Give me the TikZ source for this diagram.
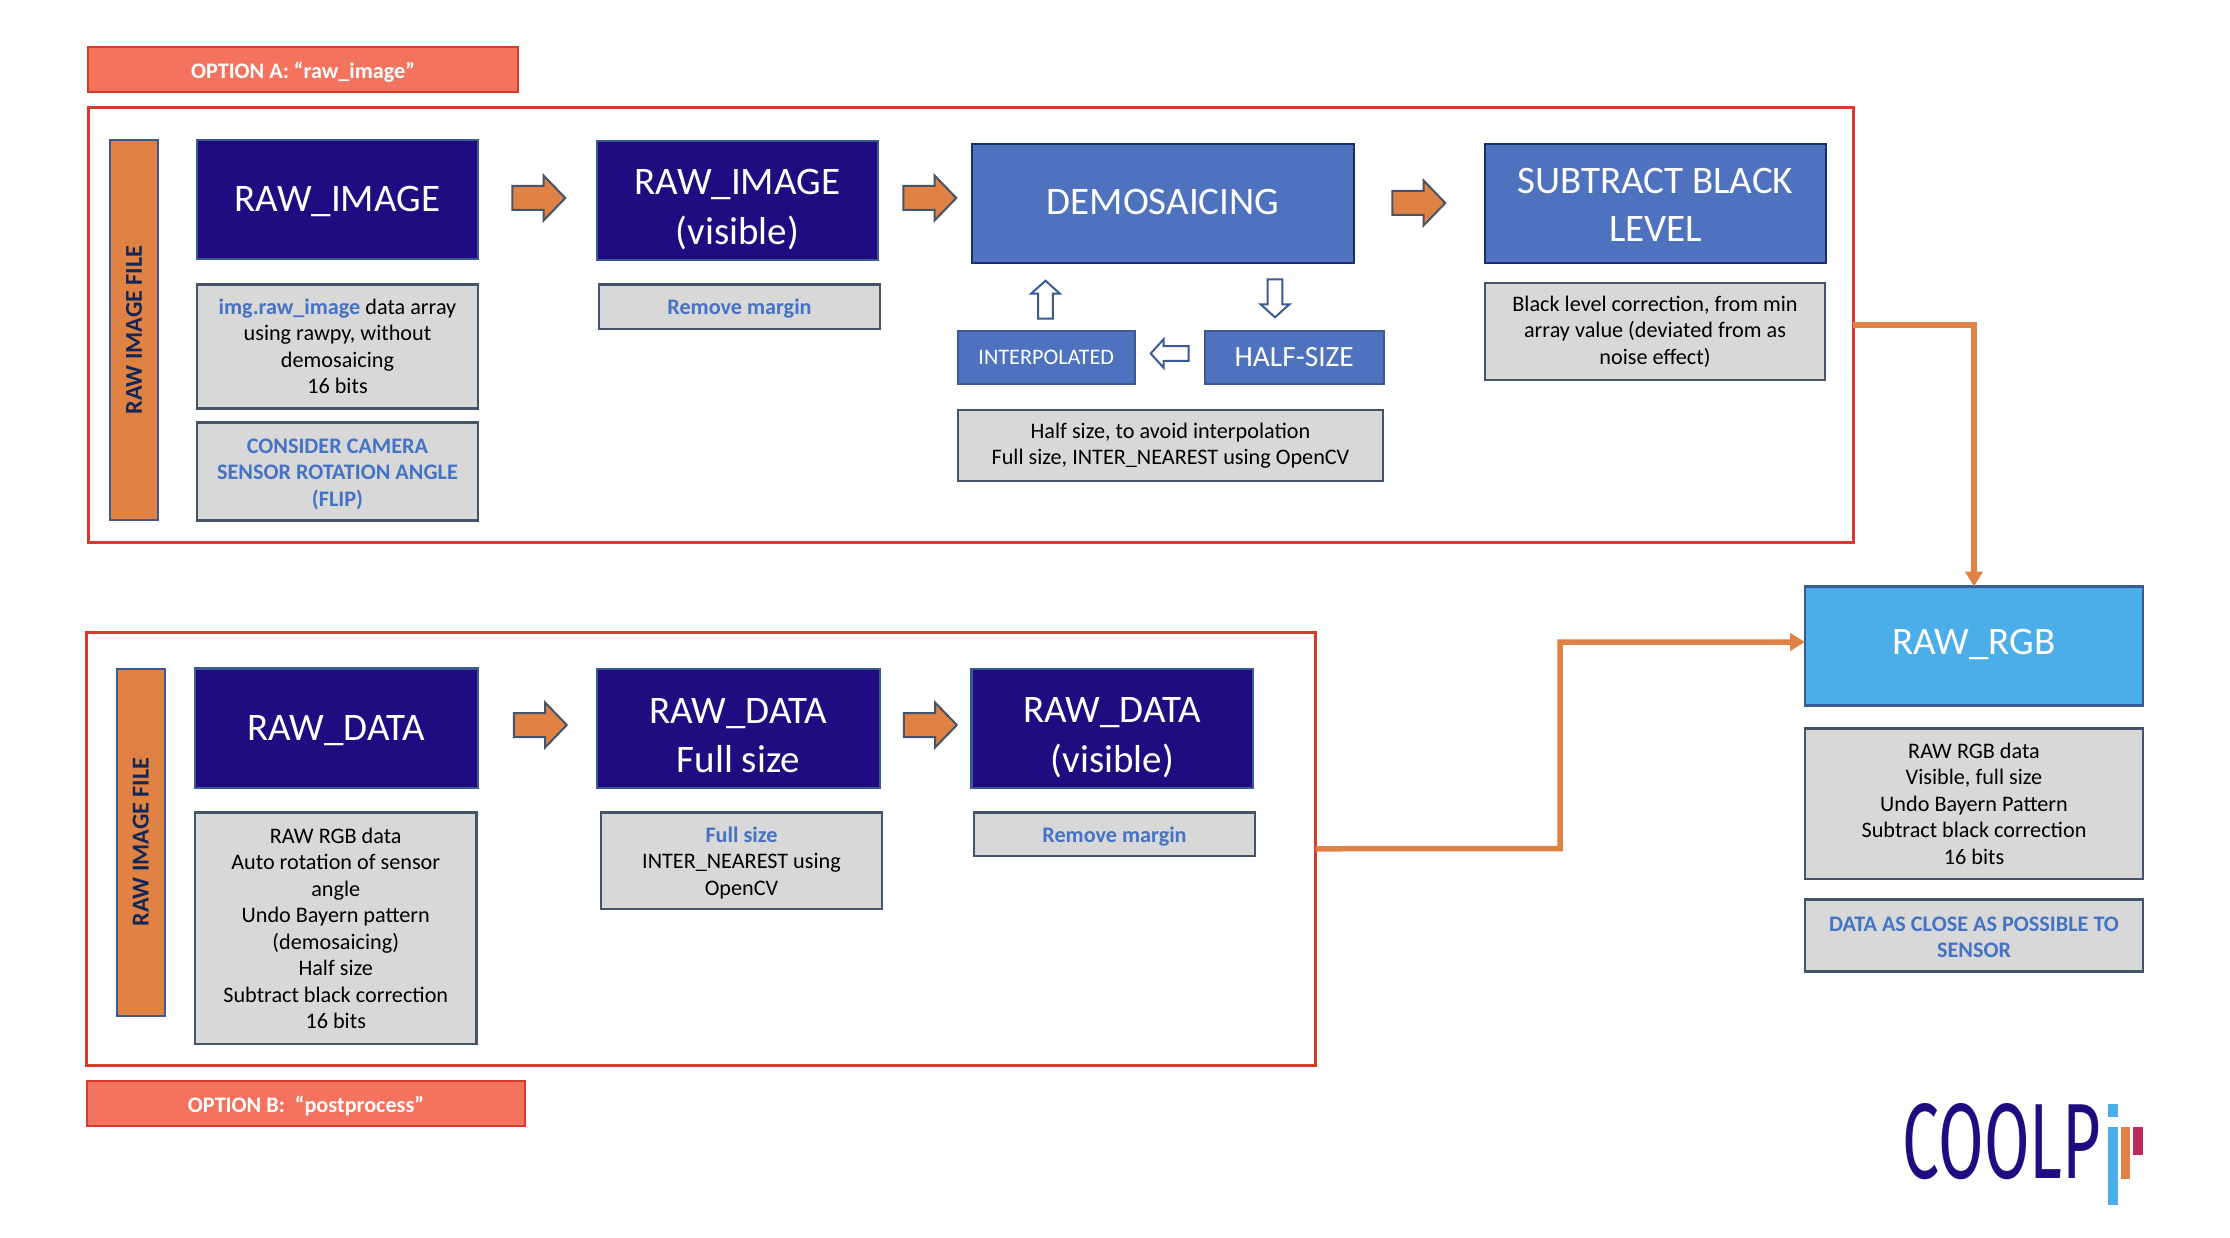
\documentclass[tikz,border=0pt]{standalone}
\usepackage{fontspec}
\setmainfont{Carlito}
\newfontfamily\logofont{Fira Sans}
\usetikzlibrary{shapes.arrows,arrows.meta}
\definecolor{navy}{HTML}{200C80}
\definecolor{midblue}{HTML}{4E72BE}
\definecolor{skyblue}{HTML}{4BAEE8}
\definecolor{barorange}{HTML}{DF8244}
\definecolor{framered}{HTML}{D83A2E}
\definecolor{optfill}{HTML}{F4735F}
\definecolor{greyfill}{HTML}{D8D8D8}
\definecolor{greyedge}{HTML}{44546A}
\definecolor{edgeblue}{HTML}{3A5A94}
\definecolor{darkedge}{HTML}{17306B}
\definecolor{textblue}{HTML}{4472C4}
\definecolor{logomag}{HTML}{C0295F}
\newcommand{\rb}[7][]{\node[#2,minimum width={#5-#3},minimum height={#6-#4},#1] at ({(#3+#5)/2},{(#4+#6)/2}) {#7};}
\newcommand{\ctext}[1]{\textcolor{textblue}{\bfseries #1}}
\newcommand{\bigstrut}{\rule[-4.5pt]{0pt}{48pt}}
\newcommand{\upstrut}{\rule[-10pt]{0pt}{48pt}}
\newcommand{\downstrut}{\rule{0pt}{20pt}}
\tikzset{
  base/.style={rectangle,inner sep=0pt,outer sep=0pt,align=center},
  navybox/.style={base,fill=navy,draw=edgeblue,line width=2.5pt,text=white,font=\fontsize{39}{48}\selectfont},
  bluebox/.style={base,fill=midblue,draw=darkedge,line width=2.5pt,text=white,font=\fontsize{39}{48}\selectfont},
  smallblue/.style={base,fill=midblue,draw=edgeblue,line width=2pt,text=white},
  greybox/.style={base,fill=greyfill,draw=greyedge,line width=2.5pt,text=black,font=\fontsize{22.2}{26.5}\selectfont},
  optbox/.style={base,fill=optfill,draw=framered,line width=2.5pt,text=white,font=\fontsize{22.2}{25}\selectfont\bfseries},
  frame/.style={base,draw=framered,line width=3pt},
  sidebar/.style={base,rotate=90,fill=barorange,draw=edgeblue,line width=2pt,text=darkedge!80!black,font=\fontsize{24.2}{28}\selectfont\bfseries},
  fatarrow/.style={single arrow,inner sep=0pt,outer sep=0pt,fill=barorange,draw=greyedge,line width=2pt,single arrow head indent=0pt,single arrow tip angle=92,text height=22pt,text depth=0pt,text width=1pt,minimum height=53pt,single arrow head extend=10.5pt},
  thinarrow/.style={single arrow,inner sep=0pt,outer sep=0pt,fill=white,draw=edgeblue,line width=2pt,single arrow head indent=0pt,single arrow tip angle=96,text height=12.6pt,text depth=0pt,text width=1pt,minimum height=38pt,single arrow head extend=7pt},
  conn/.style={draw=barorange,line width=5.5pt,-{Triangle[length=15pt,width=17pt]}},
}
\begin{document}
\begin{tikzpicture}[x=1pt,y=-1pt]
\useasboundingbox[fill=white] (0,0) rectangle (2230,1238);
% frames
\rb[name=frameA]{frame}{88}{107.7}{1853}{542.5}{}
\rb[name=frameB]{frame}{86.5}{632}{1315.5}{1065.5}{}
\rb[name=optA]{optbox}{88}{47}{518}{92}{\rule{0pt}{22pt}OPTION A: “raw\_image”}
\rb[name=optB]{optbox}{87}{1081}{525}{1126}{\rule{0pt}{22pt}OPTION B:\ \ “postprocess”}
% side bars
\node[sidebar,name=barA,minimum width=380.7pt,minimum height=48pt] at (134,330.1) {RAW IMAGE FILE};
\node[sidebar,name=barB,minimum width=347pt,minimum height=48.5pt] at (140.8,842) {RAW IMAGE FILE};
% option A row
\rb[name=rawimg]{navybox}{197}{140}{478}{259}{\rule{0pt}{29pt}RAW\_IMAGE}
\rb[name=rawvis]{navybox}{597}{141}{878}{260}{\bigstrut RAW\_IMAGE\\\bigstrut (visible)}
\rb[name=demo]{bluebox}{972}{144}{1354}{263}{DEMOSAICING\rule[-4pt]{0pt}{1pt}}
\rb[name=black]{bluebox}{1485}{144}{1826}{263}{\upstrut SUBTRACT BLACK\\\upstrut LEVEL}
\rb[name=g1]{greybox}{197}{284.4}{478}{408.4}{\ctext{img.raw\_image} data array\\using rawpy, without\\demosaicing\\16 bits}
\rb[name=g2]{greybox}{197}{422.6}{478}{520.5}{\downstrut\ctext{CONSIDER CAMERA}\\\ctext{SENSOR ROTATION ANGLE}\\\ctext{(FLIP)}}
\rb[name=g3]{greybox}{599}{284.4}{880}{329}{\downstrut\ctext{Remove margin}}
\rb[name=interp,font=\fontsize{22.2}{25}\selectfont]{smallblue}{958}{331}{1134.5}{384}{INTERPOLATED}
\rb[name=half,font=\fontsize{29.4}{32}\selectfont]{smallblue}{1205}{331}{1383.5}{384}{HALF-SIZE}
\rb[name=g4]{greybox}{958}{410}{1383}{481}{Half size, to avoid interpolation\\Full size, INTER\_NEAREST using OpenCV}
\rb[name=g5]{greybox}{1485}{283}{1825}{380}{Black level correction, from min\\array value (deviated from as\\noise effect)}
% fat arrows A
\node[fatarrow,name=aa1] at (533,198) {};
\node[fatarrow,name=aa2] at (924,198) {};
\node[fatarrow,name=aa3] at (1413,203) {};
% thin arrows
\node[thinarrow,rotate=90,name=up] at (1045.5,303) {};
\node[thinarrow,rotate=-90,name=down] at (1275,295) {};
\node[thinarrow,rotate=180,name=left] at (1173,353.5) {};
% option B row
\rb[name=rawdata]{navybox}{195}{668.4}{478}{788}{\rule{0pt}{29pt}RAW\_DATA}
\rb[name=rawfull]{navybox}{597}{669}{880}{788}{\bigstrut RAW\_DATA\\\bigstrut Full size}
\rb[name=datavis]{navybox}{971.5}{669}{1253}{788}{\bigstrut RAW\_DATA\\\bigstrut (visible)}
\rb[name=g6]{greybox}{195}{812.5}{476.5}{1044}{RAW RGB data\\Auto rotation of sensor\\angle\\Undo Bayern pattern\\(demosaicing)\\Half size\\Subtract black correction\\16 bits}
\rb[name=g7]{greybox}{601}{812.5}{882}{909}{\downstrut\ctext{Full size}\\INTER\_NEAREST using\\OpenCV}
\rb[name=g8]{greybox}{974}{812.5}{1255}{856}{\downstrut\ctext{Remove margin}}
\node[fatarrow,name=bb1] at (534.5,725) {};
\node[fatarrow,name=bb2] at (924.5,725) {};
% result
\rb[name=rawrgb,fill=skyblue,draw=edgeblue,font=\fontsize{39}{48}\selectfont]{bluebox}{1805}{586.5}{2143}{705.5}{RAW\_RGB\rule[-9pt]{0pt}{1pt}}
\rb[name=g9]{greybox}{1805}{728.5}{2143}{879}{RAW RGB data\\Visible, full size\\Undo Bayern Pattern\\Subtract black correction\\16 bits}
\rb[name=g10]{greybox}{1805}{899.5}{2143}{971.5}{\rule{0pt}{18pt}\ctext{DATA AS CLOSE AS POSSIBLE TO}\\\ctext{SENSOR}}
% connectors
\draw[conn] (frameA.east) -| (rawrgb.north);
\coordinate (bend) at (1560,848.7);
\draw[conn] (frameB.east) -- (bend) |- ([yshift=4pt]rawrgb.west);
% logo
\node[base,text=navy,name=logo] at (2002,1141.5) {\resizebox{198pt}{75pt}{\logofont COOLP}};
\fill[skyblue] (2108,1104) rectangle (2118,1117);
\fill[skyblue] (2108,1127) rectangle (2118,1205);
\fill[barorange] (2121,1127) rectangle (2130,1179);
\fill[logomag] (2133,1127) rectangle (2143,1155);
\end{tikzpicture}
\end{document}
